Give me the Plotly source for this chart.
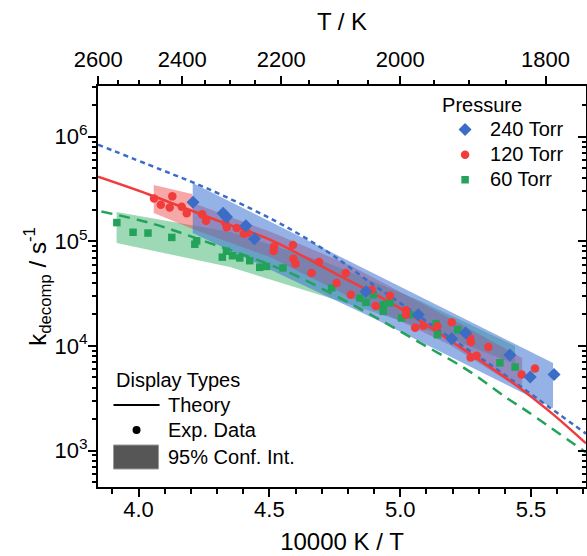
import plotly.graph_objects as go

# ---------------- data ----------------
# Experimental data (x = 10000 K / T, k in s^-1)
x240 = [4.208, 4.323, 4.336, 4.410, 4.443, 4.869, 5.069, 5.197, 5.250, 5.419, 5.497, 5.588]
k240 = [2.36e5, 1.86e5, 1.71e5, 1.41e5, 1.06e5, 3.32e4, 1.99e4, 1.17e4, 1.33e4, 8.17e3, 5.04e3, 5.32e3]

x120 = [4.059, 4.085, 4.119, 4.129, 4.165, 4.184, 4.243, 4.258, 4.332, 4.337, 4.375, 4.402,
        4.416, 4.518, 4.516, 4.590, 4.592, 4.600, 4.690, 4.661, 4.757, 4.792, 4.811, 4.891,
        4.906, 4.961, 5.022, 5.022, 5.057, 5.088, 5.142, 5.197, 5.267, 5.270, 5.269, 5.292,
        5.337, 5.464, 5.515]
k120 = [2.57e5, 2.24e5, 2.11e5, 2.69e5, 2.14e5, 1.86e5, 1.81e5, 1.57e5, 1.50e5, 1.36e5, 1.34e5, 1.18e5,
        1.20e5, 8.93e4, 8.07e4, 9.23e4, 6.82e4, 6.11e4, 6.34e4, 4.98e4, 4.00e4, 4.98e4, 3.09e4, 3.45e4,
        2.41e4, 3.02e4, 2.19e4, 1.99e4, 1.49e4, 1.56e4, 1.54e4, 1.68e4, 1.19e4, 1.09e4, 7.73e3, 8.07e3,
        9.75e3, 5.32e3, 6.07e3]

x60 = [3.917, 3.979, 4.036, 4.127, 4.215, 4.222, 4.320, 4.336, 4.359, 4.387, 4.425, 4.463,
       4.489, 4.552, 4.738, 4.846, 4.869, 4.897, 4.935, 4.961, 4.935, 5.005, 5.037, 5.137,
       5.142, 5.220, 5.381, 5.439]
k60 = [1.51e5, 1.22e5, 1.20e5, 1.09e5, 9.38e4, 1.01e5, 7.05e4, 8.04e4, 7.28e4, 6.93e4, 6.53e4, 5.64e4,
       5.75e4, 5.56e4, 3.58e4, 2.87e4, 2.61e4, 3.09e4, 2.48e4, 2.58e4, 2.14e4, 1.85e4, 1.99e4, 1.63e4,
       1.28e4, 1.43e4, 6.89e3, 6.28e3]

# Theory curves
xth240 = [3.845, 4.087, 4.259, 4.489, 4.629, 4.757, 4.897, 4.999, 5.178, 5.356, 5.522, 5.710]
kth240 = [8.38e5, 4.83e5, 3.23e5, 1.73e5, 1.11e5, 6.93e4, 3.85e4, 2.58e4, 1.26e4, 6.31e3, 3.16e3, 1.45e3]

xth120 = [3.845, 4.042, 4.310, 4.502, 4.731, 4.986, 5.209, 5.445, 5.573, 5.710]
kth120 = [4.14e5, 2.79e5, 1.55e5, 1.04e5, 5.25e4, 2.40e4, 1.05e4, 4.17e3, 2.34e3, 1.17e3]

xth60 = [3.858, 4.055, 4.234, 4.565, 4.757, 4.922, 5.088, 5.254, 5.407, 5.484, 5.710]
kth60 = [1.93e5, 1.47e5, 1.04e5, 5.16e4, 2.98e4, 1.78e4, 1.03e4, 5.94e3, 3.18e3, 2.38e3, 9.57e2]

# 95% confidence bands (upper / lower edges)
ci240_xu = [4.207, 4.896, 5.584]
ci240_ku = [3.61e5, 4.98e4, 6.87e3]
ci240_xl = [4.207, 4.896, 5.584]
ci240_kl = [1.20e5, 1.85e4, 2.55e3]

ci120_xu = [4.058, 4.205, 4.209, 4.502, 4.808, 5.228, 5.466]
ci120_ku = [3.45e5, 2.83e5, 2.32e5, 1.24e5, 5.90e4, 1.64e4, 7.66e3]
ci120_xl = [4.058, 4.207, 4.502, 4.808, 5.190, 5.466]
ci120_kl = [1.87e5, 1.31e5, 7.08e4, 2.94e4, 1.02e4, 3.78e3]

ci60_xu = [3.916, 4.349, 4.731, 5.075, 5.439]
ci60_ku = [1.91e5, 1.23e5, 6.10e4, 2.70e4, 1.00e4]
ci60_xl = [3.916, 4.349, 4.731, 5.075, 5.439]
ci60_kl = [9.64e4, 5.68e4, 2.87e4, 1.52e4, 6.71e3]

# axis ticks
x_ticks = [4.0, 4.5, 5.0, 5.5]
x_ticktext = ["4.0", "4.5", "5.0", "5.5"]
T_major = [2600, 2400, 2200, 2000, 1800]
T_minor = [2550, 2500, 2450, 2350, 2300, 2250, 2150, 2100, 2050, 1950, 1900, 1850, 1750]
y_ticks = [1e3, 1e4, 1e5, 1e6]
y_ticktext = ["10<sup>3</sup>", "10<sup>4</sup>", "10<sup>5</sup>", "10<sup>6</sup>"]

# ---------------- styles ----------------
BLUE = "#3B6CC6"
RED = "#F03C3C"
GREEN = "#23A35A"
FONT = "Liberation Sans, Arial, sans-serif"
XR = [3.845, 5.71]
YR = [2.651, 6.485]

fig = go.Figure()


def band(xu, ku, xl, kl, color):
    return go.Scatter(x=list(xu) + list(xl)[::-1], y=list(ku) + list(kl)[::-1],
                      mode="lines", fill="toself", fillcolor=color,
                      line=dict(width=0), showlegend=False, hoverinfo="skip")


fig.add_trace(band(ci60_xu, ci60_ku, ci60_xl, ci60_kl, "rgba(40,170,90,0.45)"))
fig.add_trace(band(ci120_xu, ci120_ku, ci120_xl, ci120_kl, "rgba(240,60,60,0.45)"))
fig.add_trace(band(ci240_xu, ci240_ku, ci240_xl, ci240_kl, "rgba(60,115,210,0.55)"))

fig.add_trace(go.Scatter(x=xth240, y=kth240, mode="lines", line=dict(color=BLUE, width=2.5, dash="5px,4px", shape="spline"),
                         showlegend=False, hoverinfo="skip"))
fig.add_trace(go.Scatter(x=xth60, y=kth60, mode="lines", line=dict(color=GREEN, width=2.5, dash="11px,7px", shape="spline"),
                         showlegend=False, hoverinfo="skip"))
fig.add_trace(go.Scatter(x=xth120, y=kth120, mode="lines", line=dict(color=RED, width=2.5, shape="spline"),
                         showlegend=False, hoverinfo="skip"))


def lg(name):
    return '<span style="font-size:20px">' + name + '</span>'


fig.add_trace(go.Scatter(x=x60, y=k60, mode="markers", name=lg("60 Torr"),
                         marker=dict(symbol="square", size=7.5, color=GREEN), legendrank=3))
fig.add_trace(go.Scatter(x=x120, y=k120, mode="markers", name=lg("120 Torr"),
                         marker=dict(symbol="circle", size=8.5, color=RED), legendrank=2))
fig.add_trace(go.Scatter(x=x240, y=k240, mode="markers", name=lg("240 Torr"),
                         marker=dict(symbol="diamond", size=10, color=BLUE), legendrank=1))

# empty trace to bring up the top / right axes
fig.add_trace(go.Scatter(x=[], y=[], xaxis="x2", yaxis="y2", showlegend=False, hoverinfo="skip"))

axis_common = dict(showline=True, linewidth=2, linecolor="black", ticks="outside",
                   tickwidth=1.5, tickcolor="black", ticklen=8, showgrid=False, zeroline=False,
                   tickfont=dict(size=22, color="black", family=FONT))

y_minor = [m * 10 ** e for e in range(2, 7) for m in range(2, 10)]
y_minor = [v for v in y_minor if 10 ** YR[0] < v < 10 ** YR[1]]

fig.update_layout(
    width=587, height=556,
    margin=dict(l=98, r=1, t=86, b=69),
    paper_bgcolor="white", plot_bgcolor="white",
    font=dict(family=FONT, color="black"),
    xaxis=dict(range=XR, tickvals=x_ticks, ticktext=x_ticktext, ticklabelstandoff=-6,
               minor=dict(dtick=0.1, tick0=4.0, ticks="outside", ticklen=4.5, tickwidth=1.5, tickcolor="black"),
               title=dict(text="10000 K / T", font=dict(size=24, family=FONT), standoff=12),
               **axis_common),
    xaxis2=dict(range=XR, overlaying="x", side="top", anchor="y",
                tickmode="array", tickvals=[10000 / T for T in T_major], ticktext=[str(T) for T in T_major],
                minor=dict(tickmode="array", tickvals=[10000 / T for T in T_minor], ticks="outside",
                           ticklen=4.5, tickwidth=1.5, tickcolor="black"),
                title=dict(text="T / K", font=dict(size=24, family=FONT), standoff=10),
                **axis_common),
    yaxis=dict(type="log", range=YR, tickvals=y_ticks, ticktext=y_ticktext, ticklabelstandoff=-4,
               minor=dict(tickmode="array", tickvals=y_minor, ticks="outside", ticklen=4.5,
                          tickwidth=1.5, tickcolor="black"),
               title=dict(text="k<sub>decomp</sub> / s<sup>-1</sup>", font=dict(size=24, family=FONT), standoff=0),
               **axis_common),
    yaxis2=dict(type="log", range=YR, overlaying="y", side="right", anchor="x",
                showline=True, linewidth=2, linecolor="black", ticks="inside", tickwidth=1.5,
                tickcolor="black", ticklen=8, showticklabels=False, showgrid=False, zeroline=False,
                tickvals=y_ticks,
                minor=dict(tickmode="array", tickvals=y_minor, ticks="inside", ticklen=4.5,
                           tickwidth=1.5, tickcolor="black")),
    legend=dict(x=0.701, y=1.0, xanchor="left", yanchor="top", bgcolor="rgba(0,0,0,0)",
                title=dict(text="Pressure", font=dict(size=20, family=FONT)),
                font=dict(size=17, family=FONT), itemwidth=40, tracegroupgap=0,
                traceorder="normal"),
    showlegend=True,
)

# "Display Types" key (drawn in paper coordinates)
def px_x(p):
    return (p - 98.5) / 487.5


def px_y(p):
    return (487.0 - p) / 401.0


fig.add_annotation(x=px_x(114), y=px_y(380), xref="paper", yref="paper", text="Display Types",
                   showarrow=False, xanchor="left", yanchor="middle", font=dict(size=20, family=FONT))
for label, yy in [("Theory", 405), ("Exp. Data", 430), ("95% Conf. Int.", 457)]:
    fig.add_annotation(x=px_x(166), y=px_y(yy), xref="paper", yref="paper", text=label,
                       showarrow=False, xanchor="left", yanchor="middle", font=dict(size=20, family=FONT))
fig.add_shape(type="line", xref="paper", yref="paper", x0=px_x(114), x1=px_x(160), y0=px_y(405), y1=px_y(405),
              line=dict(color="black", width=2))
fig.add_shape(type="circle", xref="paper", yref="paper", x0=px_x(133), x1=px_x(141), y0=px_y(434), y1=px_y(426),
              fillcolor="black", line=dict(width=0))
fig.add_shape(type="rect", xref="paper", yref="paper", x0=px_x(114), x1=px_x(159), y0=px_y(469), y1=px_y(445),
              fillcolor="#565656", line=dict(color="#9a9a9a", width=1))

fig.write_html("out.html", config={"displayModeBar": False},
               post_script="document.body.style.margin='0';document.body.style.overflow='hidden';")
